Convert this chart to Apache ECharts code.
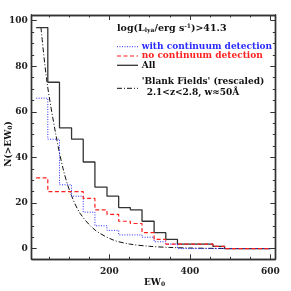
<!DOCTYPE html>
<html>
<head>
<meta charset="utf-8">
<script src="https://cdn.jsdelivr.net/npm/echarts@6/dist/echarts.min.js"></script>
<style>
html,body{margin:0;padding:0;background:#fff;}
#c{width:291px;height:291px;}
</style>
</head>
<body>
<div id="c"></div>
<script>
// ---- data ----
var binEdges = [18, 47, 76, 106, 135, 164, 194, 223, 252, 281, 311, 340, 369, 457, 486, 600];
var allCounts  = [97, 73, 53, 48, 38, 27, 23, 18, 17, 12, 7, 4, 2, 1, 0];
var noContCounts = [31, 25, 25, 25, 22, 17, 15, 12, 11, 7, 4, 2, 2, 1, 0];
var withContCounts = [66, 48, 28, 23, 16, 10, 8, 6, 6, 5, 3, 2, 0, 0, 0];
var blankEW = [30, 45, 67, 85, 102, 127, 164, 209, 250, 300, 350, 400, 450, 500, 600];
var blankN  = [97, 73, 50, 35, 25, 15.5, 8.2, 3.8, 2.0, 1.0, 0.5, 0.25, 0.12, 0.05, 0];
var xMajorTicks = [200, 400, 600];
var xMinorTicks = [50, 100, 150, 250, 300, 350, 450, 500, 550];
var yMajorTicks = [0, 20, 40, 60, 80, 100];
var yMinorTicks = [5, 10, 15, 25, 30, 35, 45, 50, 55, 65, 70, 75, 85, 90, 95];

function stepPoints(edges, vals) {
  var pts = [];
  for (var i = 0; i < vals.length; i++) pts.push([edges[i], vals[i]]);
  pts.push([edges[vals.length], vals[vals.length - 1]]);
  return pts;
}
function zip(a, b) { return a.map(function (v, i) { return [v, b[i]]; }); }

var FONT = 'DejaVu Serif';
var AX = '#333';
var XMIN = 7, XMAX = 612, YMIN = -4.7, YMAX = 102.5;

function xAx(pos, ticks, len, labels) {
  return {
    type: 'value', position: pos, min: XMIN, max: XMAX,
    axisLine: { show: true, onZero: false, lineStyle: { color: AX, width: 1.4 } },
    axisTick: { show: true, inside: true, length: len, customValues: ticks, lineStyle: { color: AX, width: 1 } },
    axisLabel: labels ? { show: true, customValues: ticks, fontFamily: FONT, fontWeight: 'bold', fontSize: 9, color: '#222', margin: 8 } : { show: false },
    splitLine: { show: false }
  };
}
function yAx(pos, ticks, len, labels) {
  return {
    type: 'value', position: pos, min: YMIN, max: YMAX,
    axisLine: { show: true, onZero: false, lineStyle: { color: AX, width: 1.4 } },
    axisTick: { show: true, inside: true, length: len, customValues: ticks, lineStyle: { color: AX, width: 1 } },
    axisLabel: labels ? { show: true, customValues: ticks, fontFamily: FONT, fontWeight: 'bold', fontSize: 9, color: '#222', margin: 4 } : { show: false },
    splitLine: { show: false }
  };
}

var chart = echarts.init(document.getElementById('c'), null, { renderer: 'canvas' });
var blue = '#2a2aff', red = '#ff2020';
var txt = { fontFamily: FONT, fontSize: 9, fontWeight: 'bold' };

chart.setOption({
  animation: false,
  backgroundColor: '#fff',
  grid: { left: 31.7, right: 15.7, top: 15, bottom: 31.7, containLabel: false },
  xAxis: [
    xAx('bottom', xMajorTicks, 5, true),
    xAx('bottom', xMinorTicks, 2.5, false),
    xAx('top', xMajorTicks, 5, false),
    xAx('top', xMinorTicks, 2.5, false)
  ],
  yAxis: [
    yAx('left', yMajorTicks, 5, true),
    yAx('left', yMinorTicks, 2.5, false),
    yAx('right', yMajorTicks, 5, false),
    yAx('right', yMinorTicks, 2.5, false)
  ],
  series: [
    { type: 'line', name: 'Blank Fields', data: zip(blankEW, blankN), smooth: 0.3, showSymbol: false,
      lineStyle: { color: '#111', width: 1, type: [5, 2, 1, 2] } },
    { type: 'line', name: 'All', data: stepPoints(binEdges, allCounts), step: 'end', showSymbol: false,
      lineStyle: { color: '#333', width: 1.3 } },
    { type: 'line', name: 'with', data: stepPoints(binEdges, withContCounts), step: 'end', showSymbol: false,
      lineStyle: { color: blue, width: 1, type: [1, 1.5] } },
    { type: 'line', name: 'no', data: stepPoints(binEdges, noContCounts), step: 'end', showSymbol: false,
      lineStyle: { color: red, width: 1.2, type: [4, 2.5] } }
  ],
  graphic: [
    { type: 'text', x: 117, y: 28.5, style: {
      text: '{a|log(L}{s|lya}{a|/erg s}{p|-1}{a|)>41.3}', verticalAlign: 'middle',
      rich: { a: { fontFamily: FONT, fontSize: 9.5, fontWeight: 'bold', fill: '#111' },
              s: { fontFamily: FONT, fontSize: 6, fontWeight: 'bold', fill: '#111', verticalAlign: 'bottom', padding: [4, 0, 0, 0] },
              p: { fontFamily: FONT, fontSize: 6, fontWeight: 'bold', fill: '#111', verticalAlign: 'top', padding: [0, 0, 4, 0] } } } },
    { type: 'line', shape: { x1: 117, y1: 46.7, x2: 138, y2: 46.7 }, style: { stroke: blue, lineWidth: 1, lineDash: [1, 1.5] } },
    { type: 'text', x: 141.7, y: 46.7, style: Object.assign({ text: 'with continuum detection', fill: blue, verticalAlign: 'middle' }, txt) },
    { type: 'line', shape: { x1: 117, y1: 56, x2: 138, y2: 56 }, style: { stroke: red, lineWidth: 1.2, lineDash: [4, 2.5] } },
    { type: 'text', x: 141.7, y: 56, style: Object.assign({ text: 'no continuum detection', fill: red, verticalAlign: 'middle' }, txt) },
    { type: 'line', shape: { x1: 117, y1: 65.3, x2: 138, y2: 65.3 }, style: { stroke: '#333', lineWidth: 1.3 } },
    { type: 'text', x: 141.7, y: 65.3, style: Object.assign({ text: 'All', fill: '#111', verticalAlign: 'middle' }, txt) },
    { type: 'line', shape: { x1: 117, y1: 88.3, x2: 138, y2: 88.3 }, style: { stroke: '#111', lineWidth: 1, lineDash: [5, 2, 1, 2] } },
    { type: 'text', x: 141.7, y: 82, style: Object.assign({ text: "'Blank Fields' (rescaled)", fill: '#111', verticalAlign: 'middle' }, txt) },
    { type: 'text', x: 146.7, y: 93, style: Object.assign({ text: '2.1<z<2.8, w\u224850\u00C5', fill: '#111', verticalAlign: 'middle' }, txt) },
    { type: 'text', x: 154.5, y: 282.5, style: {
      text: '{a|EW}{s|0}', align: 'center', verticalAlign: 'middle',
      rich: { a: { fontFamily: FONT, fontSize: 9, fontWeight: 'bold', fill: '#111' },
              s: { fontFamily: FONT, fontSize: 6, fontWeight: 'bold', fill: '#111', verticalAlign: 'bottom', padding: [4, 0, 0, 0] } } } },
    { type: 'text', x: 8.5, y: 144, rotation: Math.PI / 2, style: {
      text: '{a|N(>EW}{s|0}{a|)}', align: 'center', verticalAlign: 'middle',
      rich: { a: { fontFamily: FONT, fontSize: 9, fontWeight: 'bold', fill: '#111' },
              s: { fontFamily: FONT, fontSize: 6, fontWeight: 'bold', fill: '#111', verticalAlign: 'bottom', padding: [4, 0, 0, 0] } } } }
  ]
});
</script>
</body>
</html>
